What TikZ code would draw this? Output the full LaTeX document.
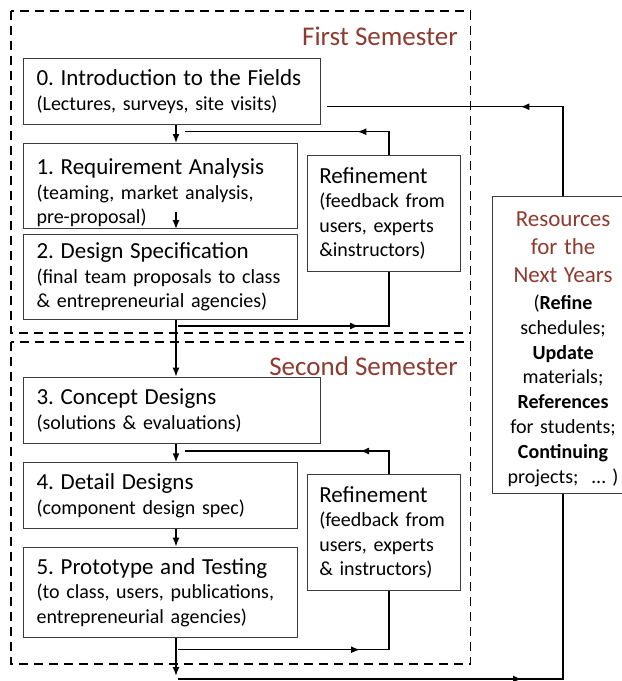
\documentclass[tikz,border=0pt]{standalone}
\usepackage{fontspec}
\setmainfont{Carlito}
\frenchspacing
\usetikzlibrary{arrows.meta, decorations.markings}
\definecolor{semred}{HTML}{8E3B2F}
\definecolor{framegray}{HTML}{3C3C3C}
\newcommand{\stagefont}{\fontsize{23}{24.5}\selectfont}
\newcommand{\notefont}{\fontsize{20}{24.5}\selectfont}
\newcommand{\resfont}{\fontsize{20}{24.8}\selectfont}
\newcommand{\semfont}{\fontsize{27}{30}\selectfont}

\begin{document}
\begin{tikzpicture}[x=1pt, y=-1pt,
    stage/.style={draw=framegray, line width=1.1pt, anchor=north west, align=left,
                  inner xsep=13pt, inner ysep=0pt, font=\notefont},
    refine/.style={stage, inner xsep=12pt, text width=129pt, minimum height=116pt},
    semester/.style={draw, dash pattern=on 9pt off 6pt, line width=1.5pt},
    semtitle/.style={anchor=base east, font=\semfont, text=semred, inner sep=0pt},
    link/.style={line width=1.5pt},
    flow/.style={link, -{Latex[length=9pt, width=7pt]}},
    tipat/.style={link, postaction={decorate},
                  decoration={markings, mark=at position #1 with {\arrow{Latex[length=9pt, width=7pt]}}}}
  ]
  \useasboundingbox (0,0) rectangle (622,681);

  % semester frames
  \draw[semester] (11,11) rectangle (470.5,333);
  \draw[semester] (11,342) rectangle (470.5,664);
  \node[semtitle] (sem1) at (458,45) {First Semester};
  \node[semtitle] (sem2) at (458,375) {Second Semester};

  % stages
  \node[stage, text width=271pt, minimum height=66pt] (intro) at (23,58)
    {{\stagefont 0. Introduction to the Fields}\\(Lectures, surveys, site visits)};
  \node[stage, text width=248pt, minimum height=85pt] (req) at (23,143)
    {{\stagefont\rule{0pt}{30pt}1. Requirement Analysis}\\(teaming, market analysis,\\pre-proposal)};
  \node[stage, text width=248pt, minimum height=85.3pt] (spec) at (23,233.7)
    {{\stagefont 2. Design Specification}\\(final team proposals to class\\\& entrepreneurial agencies)};
  \node[stage, text width=271pt, minimum height=66.6pt] (concept) at (23,376.7)
    {{\stagefont 3. Concept Designs}\\(solutions \& evaluations)};
  \node[stage, text width=248pt, minimum height=66pt] (detail) at (23,462.3)
    {{\stagefont 4. Detail Designs}\\(component design spec)};
  \node[stage, text width=248pt, minimum height=90.6pt] (proto) at (23,546.7)
    {{\stagefont 5. Prototype and Testing}\\(to class, users, publications,\\entrepreneurial agencies)};

  % refinement loops
  \node[refine] (refA) at (306.7,155)
    {{\stagefont Refinement}\\(feedback from\\users, experts\\\&instructors)};
  \node[refine] (refB) at (306.7,474)
    {{\stagefont Refinement}\\(feedback from\\users, experts\\\& instructors)};

  % resources
  \node[stage, align=center, text width=115pt, minimum height=297pt, font=\resfont] (res) at (492,196)
    {{\stagefont\color{semred}\rule{0pt}{23pt}Resources}\\[3pt]
     {\stagefont\color{semred}for the}\\[3pt]
     {\stagefont\color{semred}Next Years}\\[2.5pt]
     (\textbf{Refine}\\schedules;\\\textbf{Update}\\materials;\\\textbf{References}\\
     for students;\\\textbf{Continuing}\\projects;~ …~)};

  % connectors
  \coordinate (spine) at (176,0);
  \coordinate (fbx) at (389,0);
  \coordinate (reqnote) at (176,212);
  \coordinate (exit) at (176,676);
  \coordinate (fbAin) at (178,326);
  \coordinate (fbAout) at (185,131.7);
  \coordinate (fbBin) at (178,649.7);
  \coordinate (fbBout) at (185,451);
  \coordinate (resin) at (327,106.7);
  \coordinate (resout) at (178,679);

  \draw[flow] (intro.south -| spine) -- (req.north -| spine);
  \draw[flow] (reqnote) -- (req.south -| spine);
  \draw[flow] (spec.south -| spine) -- (concept.north -| spine);
  \draw[flow] (concept.south -| spine) -- (detail.north -| spine);
  \draw[flow] (detail.south -| spine) -- (proto.north -| spine);
  \draw[flow] (proto.south -| spine) -- (exit);

  \draw[tipat=181pt] (fbAin) -| (refA.south -| fbx);
  \draw[tipat=55pt] (refA.north -| fbx) |- (fbAout);
  \draw[tipat=182pt] (fbBin) -| (refB.south -| fbx);
  \draw[tipat=52pt] (refB.north -| fbx) |- (fbBout);

  \draw[tipat=132pt] (res.north) |- (resin);
  \draw[tipat=344pt] (resout) -| (res.south);
\end{tikzpicture}
\end{document}
